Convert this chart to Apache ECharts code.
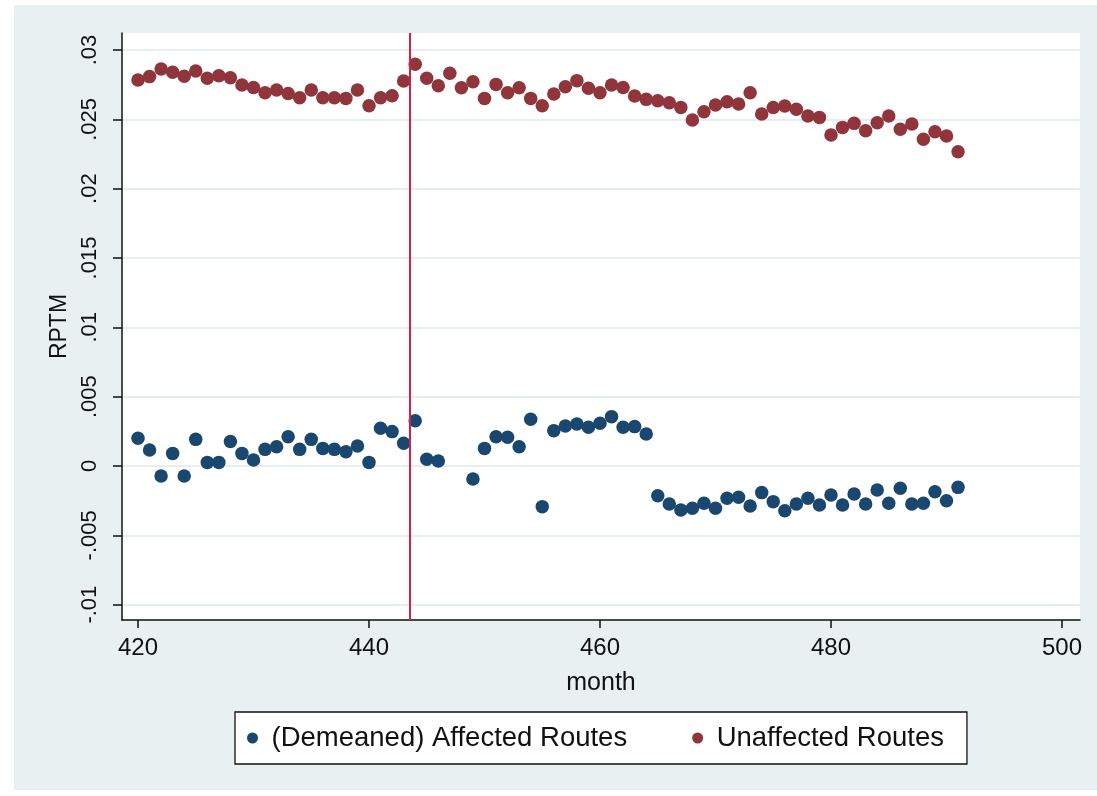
<!DOCTYPE html>
<html>
<head>
<meta charset="utf-8">
<script src="https://cdn.jsdelivr.net/npm/echarts@6/dist/echarts.min.js"></script>
<style>
  html, body { margin: 0; padding: 0; background: #ffffff; }
  #bg { position: absolute; left: 14px; top: 5px; width: 1083px; height: 785px; background: #e8f0f2; }
  #chart { position: absolute; left: 0; top: 0; width: 1097px; height: 796px; }
</style>
</head>
<body>
<div id="bg"></div>
<div id="chart"></div>
<script>
// months 420..491
const months = [];
for (let m = 420; m <= 491; m++) months.push(m);

const affected = [
  0.0020, 0.00115, -0.00072, 0.00091, -0.00072, 0.00192, 0.00026, 0.00026, 0.00176, 0.00091,
  0.00043, 0.0012, 0.00139, 0.00211, 0.0012, 0.00192, 0.00127, 0.0012, 0.00103, 0.00144,
  0.00026, 0.00272, 0.00248, 0.00164, 0.00327, 0.00048, 0.00036, null, null, -0.00094,
  0.00127, 0.00211, 0.00207, 0.00139, 0.00337, -0.00293, 0.00255, 0.00289, 0.00303, 0.00279,
  0.00308, 0.00356, 0.00279, 0.00284, 0.00231, -0.00214, -0.00274, -0.00317, -0.00305, -0.00269,
  -0.00305, -0.00233, -0.00226, -0.00289, -0.00192, -0.00257, -0.00322, -0.00274, -0.00233, -0.00281,
  -0.00209, -0.00281, -0.00202, -0.00274, -0.00173, -0.00269, -0.00161, -0.00274, -0.00269, -0.00185,
  -0.0025, -0.00154
];

const unaffected = [
  0.02784, 0.02808, 0.02863, 0.0284, 0.0281, 0.02848, 0.02796, 0.02815, 0.0280, 0.02747,
  0.0273, 0.02692, 0.02711, 0.02687, 0.02656, 0.02711, 0.02656, 0.02656, 0.02651, 0.02711,
  0.02598, 0.02656, 0.0267, 0.02776, 0.02897, 0.02796, 0.02742, 0.02832, 0.02728, 0.02771,
  0.02651, 0.02752, 0.02692, 0.02728, 0.02651, 0.02598, 0.02683, 0.02735, 0.02779, 0.02724,
  0.02692, 0.02747, 0.0273, 0.02668, 0.02644, 0.02634, 0.0262, 0.02586, 0.02495, 0.02555,
  0.02603, 0.02627, 0.0261, 0.02692, 0.02538, 0.02586, 0.02596, 0.02572, 0.02524, 0.02514,
  0.02387, 0.02442, 0.02471, 0.02418, 0.02476, 0.02524, 0.02428, 0.02466, 0.02356, 0.02411,
  0.0238, 0.02266
];

const eventMonth = 443.5;

const xTickValues = [420, 440, 460, 480, 500];
const yTickValues = [-0.01, -0.005, 0, 0.005, 0.01, 0.015, 0.02, 0.025, 0.03];
const yTickLabels = ['-.01', '-.005', '0', '.005', '.01', '.015', '.02', '.025', '.03'];

const seriesNames = ['(Demeaned) Affected Routes', 'Unaffected Routes'];

function toPairs(vals) {
  const out = [];
  vals.forEach((v, i) => { if (v !== null) out.push([months[i], v]); });
  return out;
}

const FONT = '"Liberation Sans", Arial, Helvetica, sans-serif';
const chart = echarts.init(document.getElementById('chart'), null, { renderer: 'canvas' });

chart.setOption({
  backgroundColor: 'transparent',
  animation: false,
  textStyle: { fontFamily: FONT, color: '#111' },
  grid: {
    left: 122, right: 17, top: 33, bottom: 176,
    show: true, backgroundColor: '#ffffff', borderWidth: 0
  },
  legend: {
    data: seriesNames,
    left: 235, top: 712,
    orient: 'horizontal',
    backgroundColor: '#ffffff',
    borderColor: '#111',
    borderWidth: 1.3,
    padding: [12, 23, 12, 12],
    itemGap: 65,
    itemWidth: 28,
    itemHeight: 11,
    icon: 'circle',
    textStyle: { fontFamily: FONT, fontSize: 27.5, color: '#111' }
  },
  xAxis: {
    type: 'value',
    min: 418.615, max: 501.558,
    name: 'month',
    nameLocation: 'middle',
    nameGap: 51,
    nameTextStyle: { fontFamily: FONT, fontSize: 25, color: '#111' },
    axisLine: { show: true, onZero: false, lineStyle: { color: '#111', width: 1.5 } },
    axisTick: { show: true, length: 8, customValues: xTickValues, lineStyle: { color: '#111', width: 1.5 } },
    axisLabel: { customValues: xTickValues, margin: 16, fontSize: 24, color: '#111', fontFamily: FONT },
    splitLine: { show: false }
  },
  yAxis: {
    type: 'value',
    min: -0.011106, max: 0.031226,
    name: 'RPTM',
    nameLocation: 'middle',
    nameGap: 49,
    nameTextStyle: { fontFamily: FONT, fontSize: 23, color: '#111' },
    axisLine: { show: true, onZero: false, lineStyle: { color: '#111', width: 1.5 } },
    axisTick: { show: true, length: 9, customValues: yTickValues, lineStyle: { color: '#111', width: 1.5 } },
    axisLabel: {
      customValues: yTickValues,
      rotate: 90,
      margin: 21,
      fontSize: 22,
      color: '#111',
      fontFamily: FONT,
      formatter: function (v) {
        let idx = -1;
        yTickValues.forEach((t, i) => { if (Math.abs(t - v) < 1e-9) idx = i; });
        return idx >= 0 ? yTickLabels[idx] : '';
      }
    },
    splitLine: { show: true, lineStyle: { color: '#e6eef1', width: 2 } }
  },
  series: [
    {
      name: seriesNames[0],
      type: 'scatter',
      symbol: 'circle',
      symbolSize: 13.5,
      itemStyle: { color: '#1a476f', opacity: 1 },
      data: toPairs(affected),
      markLine: {
        silent: true,
        symbol: ['none', 'none'],
        label: { show: false },
        lineStyle: { color: '#d11f47', width: 2, type: 'solid' },
        data: [{ xAxis: eventMonth }]
      }
    },
    {
      name: seriesNames[1],
      type: 'scatter',
      symbol: 'circle',
      symbolSize: 13.5,
      itemStyle: { color: '#90353b', opacity: 1 },
      data: toPairs(unaffected)
    }
  ]
});
</script>
</body>
</html>
